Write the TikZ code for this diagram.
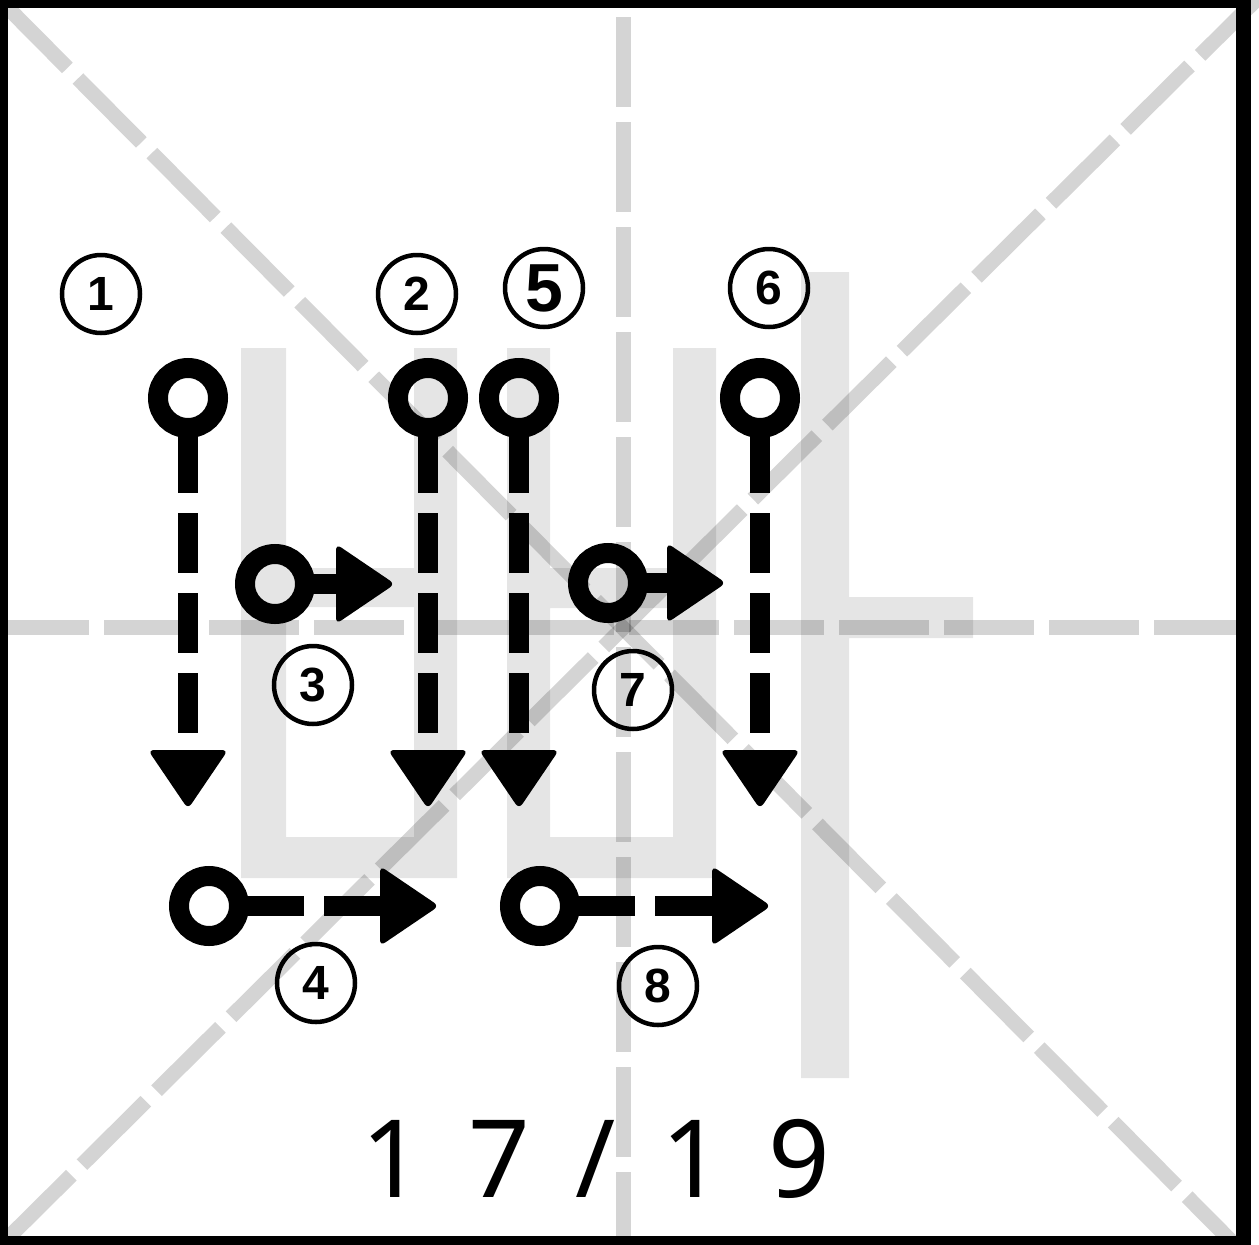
\documentclass[tikz,border=0pt]{standalone}
\usepackage{fontspec}
\setmainfont{Noto Sans}
\newfontfamily\numfont{Liberation Sans}
\usetikzlibrary{calc}
\begin{document}
\begin{tikzpicture}[x=1pt,y=-1pt,
  guide/.style={line width=15, draw=black, draw opacity=0.17, dash pattern=on 90 off 15},
  charfill/.style={fill=black, fill opacity=0.1},
  startring/.style={circle, draw=black, line width=20, minimum size=60, inner sep=0},
  strokeline/.style={line width=20, dash pattern=on 60 off 20},
  solidline/.style={line width=20},
  head/.style={fill=black, rounded corners=6},
  num/.style={circle, draw=black, line width=4.5, minimum size=78, inner sep=0,
    font=\numfont\bfseries\fontsize{48}{48}\selectfont},
  bignum/.style={num, font=\numfont\bfseries\fontsize{68}{68}\selectfont}
]
\useasboundingbox (0,0) rectangle (1259,1245);
\fill[white] (0,0) rectangle (1259,1245);

% guide lines
\draw[guide] (623,17) -- (623,1236);
\draw[guide] (-1,627.5) -- (1236,627.5);
\draw[guide] (4,4) -- (1240,1250);
\draw[guide] (1264,-8) -- (8,1238);

% gray character
\fill[charfill]
  (241,348) rectangle (286,878)
  (414,348) rectangle (457,878)
  (280,568) rectangle (420,607)
  (280,837) rectangle (420,878)
  (507,348) rectangle (550,878)
  (673,348) rectangle (716,878)
  (545,568) rectangle (678,608)
  (545,837) rectangle (678,878)
  (801,272) rectangle (849,1078)
  (845,597) rectangle (973,638);

% stroke 1
\node[startring] (s1) at (188,398) {};
\coordinate (e1) at (188,733);
\coordinate (h1) at (188,750);
\draw[strokeline] ($(s1.center)+(0,35)$) -- (e1);
\fill[head] (h1) ++(-40,0) -- ++(80,0) -- ++(-40,59) -- cycle;

% stroke 2
\node[startring] (s2) at (428,398) {};
\coordinate (e2) at (428,733);
\coordinate (h2) at (428,750);
\draw[strokeline] ($(s2.center)+(0,35)$) -- (e2);
\fill[head] (h2) ++(-40,0) -- ++(80,0) -- ++(-40,59) -- cycle;

% stroke 5
\node[startring] (s5) at (519,398) {};
\coordinate (e5) at (519,733);
\coordinate (h5) at (519,750);
\draw[strokeline] ($(s5.center)+(0,35)$) -- (e5);
\fill[head] (h5) ++(-40,0) -- ++(80,0) -- ++(-40,59) -- cycle;

% stroke 6
\node[startring] (s6) at (760,398) {};
\coordinate (e6) at (760,733);
\coordinate (h6) at (760,750);
\draw[strokeline] ($(s6.center)+(0,35)$) -- (e6);
\fill[head] (h6) ++(-40,0) -- ++(80,0) -- ++(-40,59) -- cycle;

% stroke 3
\node[startring] (s3) at (275,584) {};
\coordinate (h3) at (336,584);
\draw[solidline] ($(s3.center)+(35,0)$) -- ($(h3)+(2,0)$);
\fill[head] (h3) ++(0,-40) -- ++(59,40) -- ++(-59,40) -- cycle;

% stroke 7
\node[startring] (s7) at (608,583) {};
\coordinate (h7) at (667,583);
\draw[solidline] ($(s7.center)+(35,0)$) -- ($(h7)+(2,0)$);
\fill[head] (h7) ++(0,-40) -- ++(59,40) -- ++(-59,40) -- cycle;

% stroke 4
\node[startring] (s4) at (209,906) {};
\coordinate (h4) at (380,906);
\draw[strokeline] ($(s4.center)+(35,0)$) -- ($(h4)+(4,0)$);
\fill[head] (h4) ++(0,-40) -- ++(59,40) -- ++(-59,40) -- cycle;

% stroke 8
\node[startring] (s8) at (540,906) {};
\coordinate (h8) at (712,906);
\draw[strokeline] ($(s8.center)+(35,0)$) -- ($(h8)+(4,0)$);
\fill[head] (h8) ++(0,-40) -- ++(59,40) -- ++(-59,40) -- cycle;

% stroke numbers
\node[num] (n1) at (101,294) {1};
\node[num] (n2) at (417,294) {2};
\node[num] (n3) at (313,685) {3};
\node[num] (n4) at (316,983) {4};
\node[bignum] (n5) at (544,288) {5};
\node[num] (n6) at (769,288) {6};
\node[num] (n7) at (633,690) {7};
\node[num] (n8) at (658,986) {8};

% counter
\node[anchor=base west, inner sep=0,
  font=\fontsize{108}{108}\selectfont\addfontfeature{LetterSpace=42}] (count) at (361,1197) {17/19};

% frame
\draw[line width=15] (0,0) rectangle (1243,1243);
\end{tikzpicture}
\end{document}
